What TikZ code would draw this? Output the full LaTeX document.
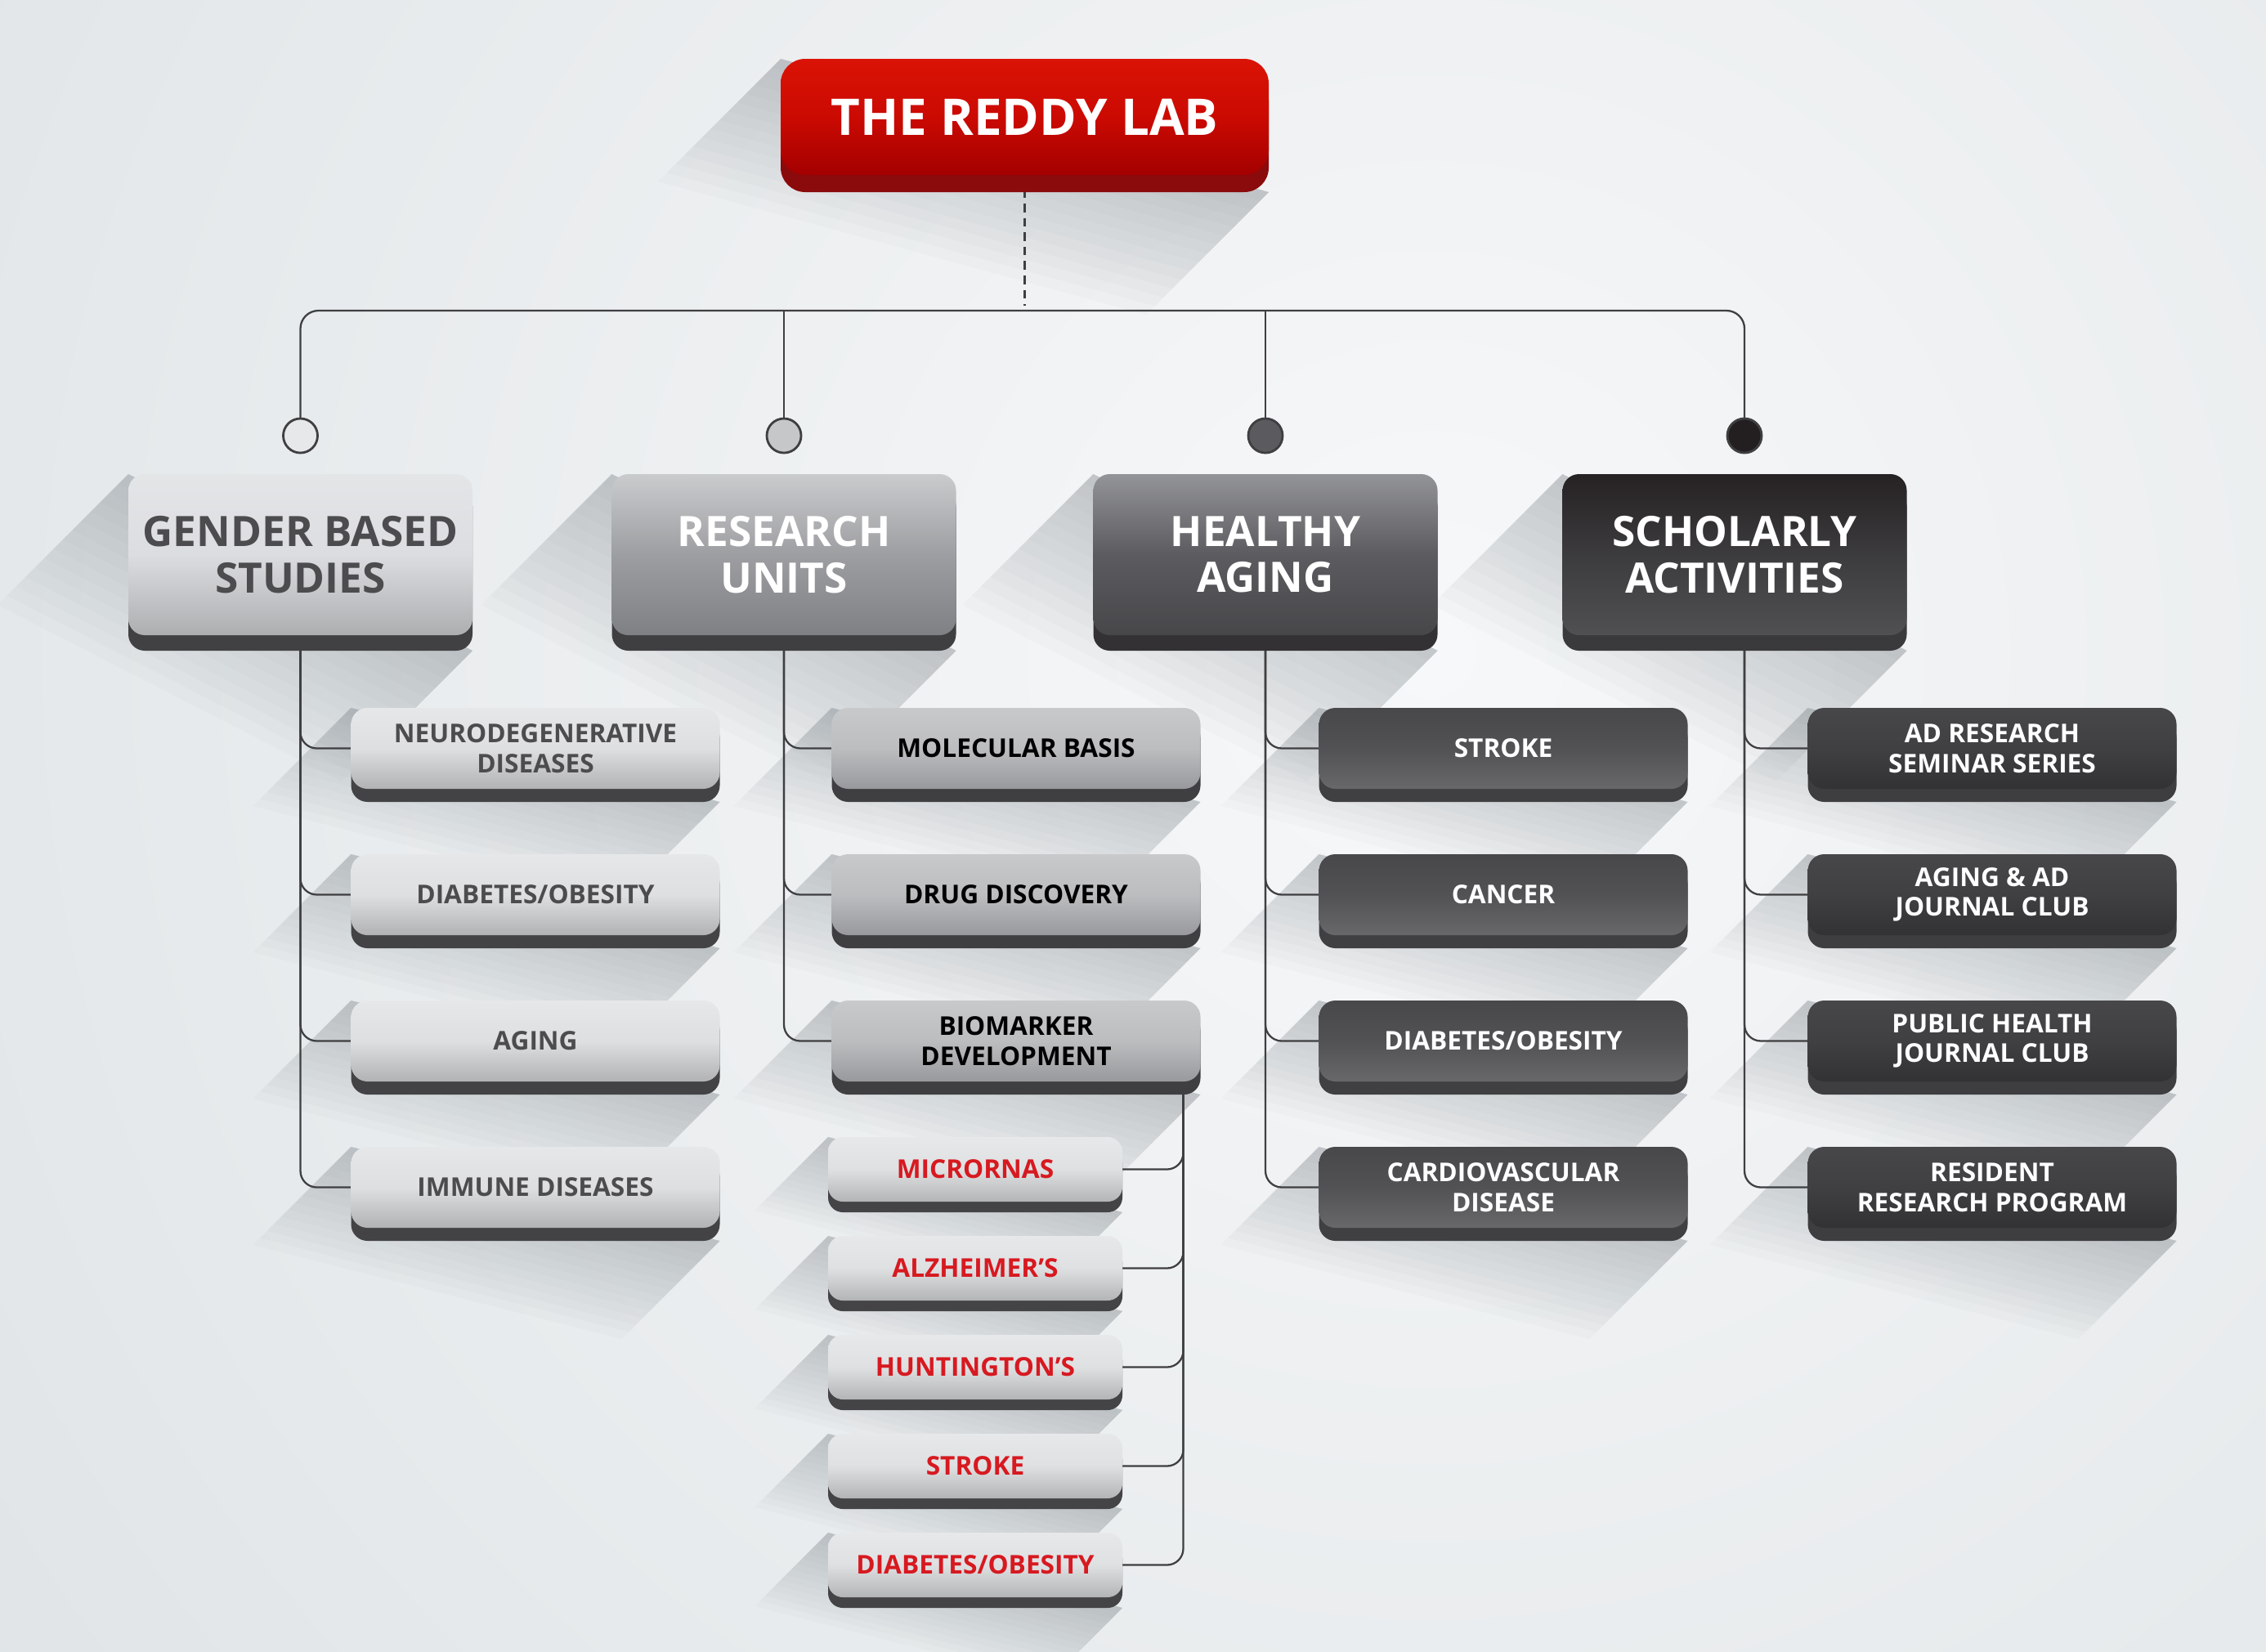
\documentclass[tikz,border=0pt]{standalone}
\usepackage{fontspec}
\setmainfont{Open Sans}
\usepackage{tikz}
\usetikzlibrary{positioning,calc}

% palette
\definecolor{bgin}{HTML}{F7F8F9}
\definecolor{bgout}{HTML}{D3D9DC}
\definecolor{shadowc}{HTML}{838C91}
\definecolor{wirec}{HTML}{3F3F41}
\definecolor{labtop}{HTML}{DA1305}\definecolor{labmid}{HTML}{CB0A02}\definecolor{labbot}{HTML}{A30000}\definecolor{lablip}{HTML}{8B0A0C}
\definecolor{gcattop}{HTML}{E4E5E7}\definecolor{gcatmid}{HTML}{DCDDE0}\definecolor{gcatbot}{HTML}{ADAEB0}\definecolor{gcatlip}{HTML}{414143}
\definecolor{ucattop}{HTML}{CACBCD}\definecolor{ucatmid}{HTML}{9D9EA1}\definecolor{ucatbot}{HTML}{7F8084}\definecolor{ucatlip}{HTML}{3F3F41}
\definecolor{acattop}{HTML}{939498}\definecolor{acatmid}{HTML}{5C5C60}\definecolor{acatbot}{HTML}{47474A}\definecolor{acatlip}{HTML}{333133}
\definecolor{scattop}{HTML}{262223}\definecolor{scatmid}{HTML}{3C3B3D}\definecolor{scatbot}{HTML}{505053}\definecolor{scatlip}{HTML}{3A393B}
\definecolor{gsubtop}{HTML}{E6E7E9}\definecolor{gsubmid}{HTML}{DEDFE1}\definecolor{gsubbot}{HTML}{B1B2B4}\definecolor{gsublip}{HTML}{434345}
\definecolor{usubtop}{HTML}{C8C9CB}\definecolor{usubmid}{HTML}{BCBDBF}\definecolor{usubbot}{HTML}{98999C}\definecolor{usublip}{HTML}{3F3F41}
\definecolor{asubtop}{HTML}{48484B}\definecolor{asubmid}{HTML}{525255}\definecolor{asubbot}{HTML}{68686B}\definecolor{asublip}{HTML}{404042}
\definecolor{ssubtop}{HTML}{47474A}\definecolor{ssubmid}{HTML}{404043}\definecolor{ssubbot}{HTML}{323133}\definecolor{ssublip}{HTML}{3E3E41}
\definecolor{msubtop}{HTML}{E7E8EA}\definecolor{msubmid}{HTML}{DFE0E2}\definecolor{msubbot}{HTML}{B3B4B6}\definecolor{msublip}{HTML}{444446}
\definecolor{greytext}{HTML}{4C4C4E}
\definecolor{redtext}{HTML}{D71920}
\definecolor{dotA}{HTML}{E6E8E9}\definecolor{dotB}{HTML}{C6C7C9}\definecolor{dotC}{HTML}{5B5B5F}\definecolor{dotD}{HTML}{231F20}

\pgfdeclarelayer{bg}\pgfdeclarelayer{shade}\pgfdeclarelayer{wires}
\pgfsetlayers{bg,shade,wires,main}

% long diagonal shadow of a box: node, lip depth, length
\newcommand{\longshade}[3]{%
  \foreach \k in {1,...,14}{
    \pgfmathsetmacro\shlen{#3*\k/14}
    \fill[shadowc, opacity=0.035]
      (#1.north west) -- ([yshift=-#2]#1.south east)
      -- ([shift={(-\shlen,-\shlen)}, yshift=-#2]#1.south east)
      -- ([shift={(-\shlen,-\shlen)}]#1.north west) -- cycle;
  }}

\begin{document}
\begin{tikzpicture}[
  box/.style={rounded corners=0.2cm, align=center, inner sep=0pt, outer sep=0pt},
  lip/.style 2 args={preaction={fill=#1, transform canvas={yshift=-#2}}},
  topbox/.style={box, rounded corners=0.3cm, minimum width=5.97cm, minimum height=1.42cm,
    top color=labtop, bottom color=labbot, middle color=labmid, lip={lablip}{0.21cm},
    text=white, font=\fontsize{17.6}{20}\selectfont\bfseries},
  cat/.style={box, minimum width=4.21cm, minimum height=1.97cm,
    top color=#1top, bottom color=#1bot, middle color=#1mid, lip={#1lip}{0.19cm},
    text=white, font=\fontsize{14.6}{16.1}\selectfont\bfseries},
  sub/.style={box, minimum width=4.51cm, minimum height=0.99cm,
    top color=#1top, bottom color=#1bot, middle color=#1mid, lip={#1lip}{0.16cm},
    text=white, font=\fontsize{9}{10.4}\selectfont\bfseries},
  redsub/.style={box, rounded corners=0.18cm, minimum width=3.60cm, minimum height=0.79cm,
    top color=msubtop, bottom color=msubbot, middle color=msubmid, lip={msublip}{0.13cm},
    text=redtext, font=\fontsize{9}{10.4}\selectfont\bfseries},
  dot/.style={circle, draw=wirec, line width=0.8pt, minimum size=0.42cm, inner sep=0pt, outer sep=0pt},
  wire/.style={draw=wirec, line width=0.65pt},
]
\useasboundingbox (0,0) rectangle (27.72,-20.20);

\begin{pgfonlayer}{bg}
  \clip (0,0) rectangle (27.72,-20.20);
  \fill[bgout] (0,0) rectangle (27.72,-20.20);
  \shade[inner color=bgin, outer color=bgout] (17.5,-8) circle (34);
\end{pgfonlayer}

% head and main branches
\node[topbox] (lab) at (12.535,-1.43) {THE REDDY LAB};

\node[cat=gcat, text=greytext] (gender) at (3.675,-6.785) {GENDER BASED\\STUDIES};
\node[cat=ucat] (units)   at (9.59,-6.785)  {RESEARCH\\UNITS};
\node[cat=acat] (aging)   at (15.48,-6.785) {HEALTHY\\AGING};
\node[cat=scat] (scholar) at (21.22,-6.785) {SCHOLARLY\\ACTIVITIES};

\node[dot, fill=dotA, above=0.26cm of gender]  (dgender)  {};
\node[dot, fill=dotB, above=0.26cm of units]   (dunits)   {};
\node[dot, fill=dotC, above=0.26cm of aging]   (daging)   {};
\node[dot, fill=dotD, above=0.26cm of scholar, xshift=0.12cm] (dscholar) {};

% gender based studies
\node[sub=gsub, text=greytext, below=0.89cm of gender, xshift=2.875cm] (neuro) {NEURODEGENERATIVE\\DISEASES};
\node[sub=gsub, text=greytext, below=0.80cm of neuro] (gdiab)   {DIABETES/OBESITY};
\node[sub=gsub, text=greytext, below=0.80cm of gdiab] (gaging)  {AGING};
\node[sub=gsub, text=greytext, below=0.80cm of gaging] (immune) {IMMUNE DISEASES};

% research units
\node[sub=usub, text=black, below=0.89cm of units, xshift=2.84cm] (molec) {MOLECULAR BASIS};
\node[sub=usub, text=black, below=0.80cm of molec] (drug) {DRUG DISCOVERY};
\node[sub=usub, text=black, below=0.80cm of drug]  (bio)  {BIOMARKER\\DEVELOPMENT};

\node[redsub, below=0.68cm of bio, xshift=-0.50cm] (mirna) {MICRORNAS};
\node[redsub, below=0.42cm of mirna] (alz)    {ALZHEIMER’S};
\node[redsub, below=0.42cm of alz]   (hunt)   {HUNTINGTON’S};
\node[redsub, below=0.42cm of hunt]  (rstroke) {STROKE};
\node[redsub, below=0.42cm of rstroke] (rdiab) {DIABETES/OBESITY};

% healthy aging
\node[sub=asub, below=0.89cm of aging, xshift=2.91cm] (stroke) {STROKE};
\node[sub=asub, below=0.80cm of stroke] (cancer) {CANCER};
\node[sub=asub, below=0.80cm of cancer] (adiab)  {DIABETES/OBESITY};
\node[sub=asub, below=0.80cm of adiab]  (cardio) {CARDIOVASCULAR\\DISEASE};

% scholarly activities
\node[sub=ssub, below=0.89cm of scholar, xshift=3.15cm] (seminar) {AD RESEARCH\\SEMINAR SERIES};
\node[sub=ssub, below=0.80cm of seminar] (adclub)   {AGING \& AD\\JOURNAL CLUB};
\node[sub=ssub, below=0.80cm of adclub]  (phclub)   {PUBLIC HEALTH\\JOURNAL CLUB};
\node[sub=ssub, below=0.80cm of phclub]  (resident) {RESIDENT\\RESEARCH PROGRAM};

\coordinate (bar) at (0,-3.80);
\coordinate (rtrunk) at ([xshift=-0.21cm]bio.south east);
\coordinate (strunk) at ([xshift=0.12cm]scholar.south);

\begin{pgfonlayer}{shade}
  \longshade{lab}{0.21cm}{1.5}
  \foreach \n in {gender,units,aging,scholar} {\longshade{\n}{0.19cm}{1.6}}
  \foreach \n in {neuro,gdiab,gaging,immune,molec,drug,bio,stroke,cancer,adiab,cardio,seminar,adclub,phclub,resident}
    {\longshade{\n}{0.16cm}{1.2}}
  \foreach \n in {mirna,alz,hunt,rstroke,rdiab} {\longshade{\n}{0.13cm}{0.9}}
\end{pgfonlayer}

\begin{pgfonlayer}{wires}
  \draw[wire, dash pattern=on 3pt off 2pt] (lab.south) -- ([yshift=0.06cm]lab.south |- bar);
  \draw[wire, rounded corners=0.22cm] (dgender.north) -- (dgender |- bar) -- (dscholar |- bar) -- (dscholar.north);
  \draw[wire] (dunits.north) -- (dunits |- bar);
  \draw[wire] (daging.north) -- (daging |- bar);

  \foreach \n in {neuro,gdiab,gaging,immune} {\draw[wire, rounded corners=0.2cm] (gender.south) |- (\n.west);}
  \foreach \n in {molec,drug,bio} {\draw[wire, rounded corners=0.2cm] (units.south) |- (\n.west);}
  \foreach \n in {stroke,cancer,adiab,cardio} {\draw[wire, rounded corners=0.2cm] (aging.south) |- (\n.west);}
  \foreach \n in {seminar,adclub,phclub,resident} {\draw[wire, rounded corners=0.2cm] (strunk) |- (\n.west);}
  \foreach \n in {mirna,alz,hunt,rstroke,rdiab} {\draw[wire, rounded corners=0.2cm] (rtrunk) |- (\n.east);}
\end{pgfonlayer}
\end{tikzpicture}
\end{document}
